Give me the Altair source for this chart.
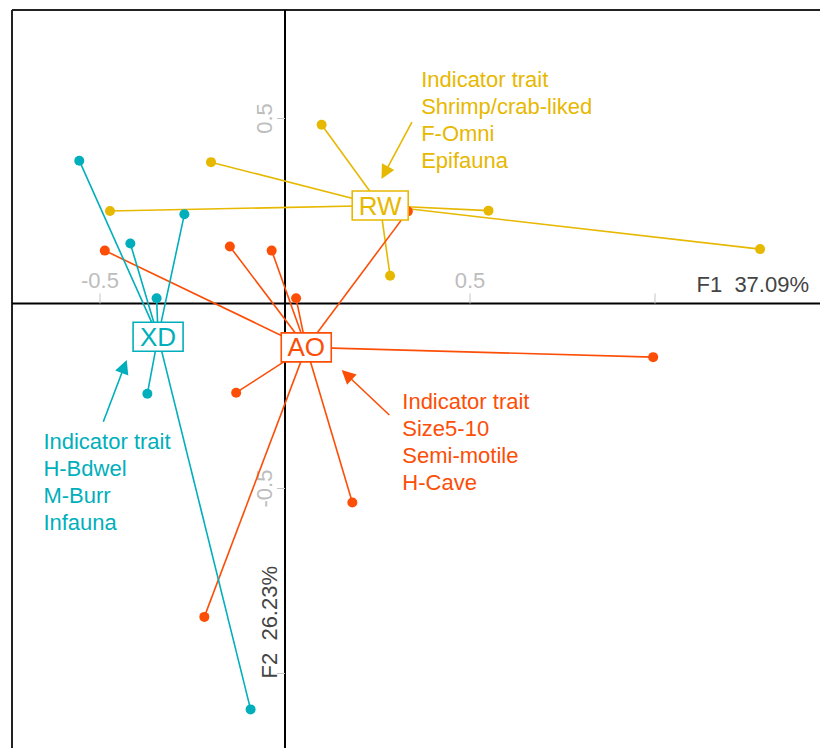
import math
import pandas as pd
import altair as alt

# Site scores on the first two ordination axes, one pair of lists per group
rw_f1 = [0.099, -0.200, -0.473, 0.284, 0.550, 1.284]
rw_f2 = [0.483, 0.382, 0.250, 0.075, 0.251, 0.147]

ao_f1 = [-0.487, -0.149, -0.036, 0.030, 0.332, -0.132, 0.182, 0.995, -0.218]
ao_f2 = [0.143, 0.154, 0.143, 0.014, 0.249, -0.241, -0.538, -0.145, -0.847]

xd_f1 = [-0.556, -0.272, -0.418, -0.347, -0.372, -0.093]
xd_f2 = [0.386, 0.241, 0.162, 0.014, -0.244, -1.097]

group_names = ["RW", "AO", "XD"]
group_colors = ["#E7B800", "#FC4E07", "#00AFBB"]

# Indicator traits listed beside each group
rw_traits = ["Indicator trait", "Shrimp/crab-liked", "F-Omni", "Epifauna"]
ao_traits = ["Indicator trait", "Size5-10", "Semi-motile", "H-Cave"]
xd_traits = ["Indicator trait", "H-Bdwel", "M-Burr", "Infauna"]

x_ticks = [-0.5, 0.5, 1.0]
x_tick_labels = ["-0.5", "0.5", ""]
y_ticks = [0.5, -0.5, -1.0]
y_tick_labels = ["0.5", "-0.5", ""]

axis1_label = "F1\u00a0 37.09%"
axis2_label = "F2\u00a0 26.23%"

# ---------------------------------------------------------------- layout
FONT = "Liberation Sans"
PAD_L, PAD_T = 12, 10
W, H = 808, 738
PX = 370.0                      # pixels per unit, same on both axes
X0 = (PAD_L - 285) / PX
X1 = X0 + W / PX
Y1 = (303.5 - PAD_T) / PX
Y0 = Y1 - H / PX

XS = alt.Scale(domain=[X0, X1], nice=False, zero=False)
YS = alt.Scale(domain=[Y0, Y1], nice=False, zero=False)


def X(f):
    return alt.X(f, type="quantitative", scale=XS, axis=None)


def Y(f):
    return alt.Y(f, type="quantitative", scale=YS, axis=None)


color_scale = alt.Scale(domain=group_names, range=group_colors)

# ---------------------------------------------------------------- tables
pts = pd.concat([
    pd.DataFrame({"g": "RW", "f1": rw_f1, "f2": rw_f2}),
    pd.DataFrame({"g": "AO", "f1": ao_f1, "f2": ao_f2}),
    pd.DataFrame({"g": "XD", "f1": xd_f1, "f2": xd_f2}),
], ignore_index=True)

cent = pts.groupby("g", as_index=False)[["f1", "f2"]].mean()
cent = cent.rename(columns={"f1": "cx", "f2": "cy"})
pts = pts.merge(cent, on="g")

# label box widths (px) and annotation placement (axis units)
box_w = {"RW": 56, "AO": 50, "XD": 50}
note_pos = {            # text left edge, centre of first line
    "RW": (0.368, 0.604),
    "AO": (0.317, -0.2654),
    "XD": (-0.653, -0.3735),
}
arrow_pos = {           # tail, tip
    "RW": ((0.343, 0.4905), (0.2608, 0.3365)),
    "AO": ((0.2819, -0.3014), (0.1532, -0.1797)),
    "XD": ((-0.491, -0.3195), (-0.4278, -0.1527)),
}
traits = {"RW": rw_traits, "AO": ao_traits, "XD": xd_traits}

notes_rows, arrow_rows = [], []
HEAD = 14
for g in group_names:
    tx, ty = note_pos[g]
    notes_rows.append({"g": g, "x": tx, "y": ty, "t": "\n".join(traits[g])})
    (ax, ay), (bx, by) = arrow_pos[g]
    dx, dy = bx - ax, by - ay
    L = math.hypot(dx, dy)
    ex, ey = bx - dx / L * (HEAD - 2) / PX, by - dy / L * (HEAD - 2) / PX
    ang = math.degrees(math.atan2(dx, dy)) % 360
    arrow_rows.append({"g": g, "x": ax, "y": ay, "x2": ex, "y2": ey,
                       "hx": bx, "hy": by, "ang": ang})
notes = pd.DataFrame(notes_rows)
arrows = pd.DataFrame(arrow_rows)

zero = pd.DataFrame({"v": [0.0]})
top_edge = pd.DataFrame({"v": [Y1]})
left_edge = pd.DataFrame({"v": [X0]})
xt = pd.DataFrame({"v": x_ticks, "lab": x_tick_labels, "z": 0.0})
yt = pd.DataFrame({"v": y_ticks, "lab": y_tick_labels, "z": 0.0})

# ---------------------------------------------------------------- layers
frame_top = alt.Chart(top_edge).mark_rule(color="#222222", strokeWidth=2).encode(y=Y("v"))
frame_left = alt.Chart(left_edge).mark_rule(color="#222222", strokeWidth=2).encode(x=X("v"))

axis_h = alt.Chart(zero).mark_rule(color="black", strokeWidth=2).encode(y=Y("v"))
axis_v = alt.Chart(zero).mark_rule(color="black", strokeWidth=2).encode(x=X("v"))

xtick_marks = alt.Chart(xt).mark_rule(color="#c4c4c4", strokeWidth=1, y2Offset=-10).encode(
    x=X("v"), y=Y("z"), y2="z")
ytick_marks = alt.Chart(yt).mark_rule(color="#c4c4c4", strokeWidth=1, x2Offset=-8).encode(
    y=Y("v"), x=X("z"), x2="z")

xtick_text = alt.Chart(xt).mark_text(
    font=FONT, fontSize=22, color="#bdbdbd", align="center", baseline="alphabetic",
    yOffset=-16).encode(x=X("v"), y=Y("z"), text="lab:N")
ytick_text = alt.Chart(yt).mark_text(
    font=FONT, fontSize=22, color="#bdbdbd", align="center", baseline="alphabetic",
    angle=270, xOffset=-13).encode(y=Y("v"), x=X("z"), text="lab:N")

f1_text = alt.Chart(pd.DataFrame({"x": [X1], "y": [0.0], "t": [axis1_label]})).mark_text(
    font=FONT, fontSize=22, color="#444444", align="right", baseline="alphabetic",
    xOffset=-11, yOffset=-12).encode(x=X("x"), y=Y("y"), text="t:N")
f2_text = alt.Chart(pd.DataFrame({"x": [0.0], "y": [-1.0], "t": [axis2_label]})).mark_text(
    font=FONT, fontSize=22, color="#444444", align="left", baseline="alphabetic",
    angle=270, xOffset=-8, yOffset=5).encode(x=X("x"), y=Y("y"), text="t:N")

links = alt.Chart(pts).mark_rule(strokeWidth=1.6).encode(
    x=X("f1"), y=Y("f2"), x2="cx", y2="cy",
    color=alt.Color("g:N", scale=color_scale, legend=None))

dots = alt.Chart(pts).mark_circle(size=100, opacity=1).encode(
    x=X("f1"), y=Y("f2"),
    color=alt.Color("g:N", scale=color_scale, legend=None))

boxes = []
for g, c in zip(group_names, group_colors):
    w = box_w[g]
    sub = cent[cent["g"] == g]
    boxes.append(alt.Chart(sub).mark_rect(
        fill="white", stroke=c, strokeWidth=1.6,
        xOffset=-w / 2, x2Offset=w / 2, yOffset=-14.5, y2Offset=14.5).encode(
        x=X("cx"), x2="cx", y=Y("cy"), y2="cy"))

box_text = alt.Chart(cent).mark_text(
    font=FONT, fontSize=26, align="center", baseline="middle", dy=1).encode(
    x=X("cx"), y=Y("cy"), text="g:N",
    color=alt.Color("g:N", scale=color_scale, legend=None))

arrow_lines = alt.Chart(arrows).mark_rule(strokeWidth=1.6).encode(
    x=X("x"), y=Y("y"), x2="x2", y2="y2",
    color=alt.Color("g:N", scale=color_scale, legend=None))

arrow_heads = alt.Chart(arrows).mark_point(
    shape="M0,0L-0.5,1L0.5,1Z", filled=True, opacity=1, size=(2 * HEAD) ** 2,
    strokeWidth=0).encode(
    x=X("hx"), y=Y("hy"),
    angle=alt.Angle("ang:Q", scale=None),
    color=alt.Color("g:N", scale=color_scale, legend=None))

note_text = alt.Chart(notes).mark_text(
    font=FONT, fontSize=22, align="left", baseline="middle",
    lineBreak="\n", lineHeight=27).encode(
    x=X("x"), y=Y("y"), text="t:N",
    color=alt.Color("g:N", scale=color_scale, legend=None))

chart = alt.layer(
    frame_top, frame_left, axis_h, axis_v,
    xtick_marks, ytick_marks, xtick_text, ytick_text, f1_text, f2_text,
    links, dots, *boxes, box_text,
    arrow_lines, arrow_heads, note_text,
).properties(
    width=W, height=H,
    autosize=alt.AutoSizeParams(type="none"),
    padding={"left": PAD_L, "top": PAD_T, "right": 0, "bottom": 0},
    background="white",
).configure_view(stroke=None, strokeWidth=0)

chart.save("out.html", embed_options={"renderer": "svg", "actions": False})
